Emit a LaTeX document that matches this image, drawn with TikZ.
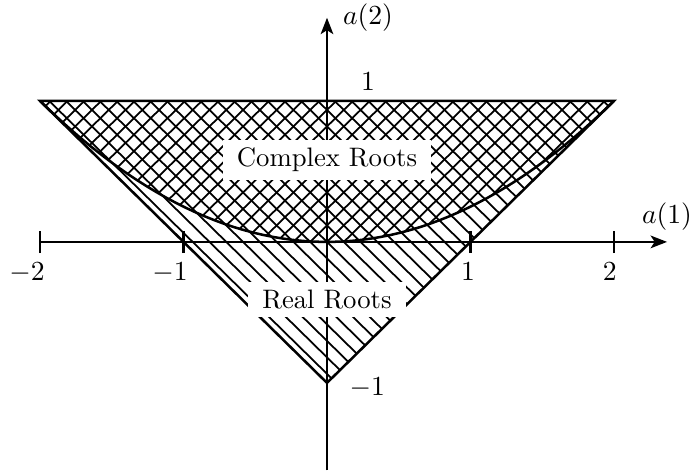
\documentclass[tikz,border=0pt]{standalone}
\usetikzlibrary{arrows.meta}
\begin{document}
\begin{tikzpicture}[x=2cm,y=1.965cm,
    every node/.style={font=\fontsize{10.6}{12}\selectfont},
    hatch/.style={line width=0.7pt},
    edge/.style={line width=1pt},
    axis/.style={line width=0.9pt,-{Stealth[length=6.5pt,width=5pt,inset=1.6pt]}},
    hole/.style={fill=white,inner xsep=5.5pt,inner ysep=3.2pt}]
  \useasboundingbox (-2.279,-1.645) rectangle (2.537,1.716);
  % complex roots: cross hatch above the parabola
  \begin{scope}
    \clip (-2,1) -- plot[domain=-2:2,samples=60] (\x,{\x*\x/4}) -- cycle;
    \foreach \i in {-30,...,30}
      \draw[hatch] ({\i*0.117-2},2) -- ({\i*0.117+2},-2)
                   ({\i*0.117-2},-2) -- ({\i*0.117+2},2);
  \end{scope}
  % real roots: single hatch below it
  \begin{scope}
    \clip (-2,1) -- (0,-1) -- (2,1) -- plot[domain=2:-2,samples=60] (\x,{\x*\x/4}) -- cycle;
    \foreach \i in {-30,...,30}
      \draw[hatch] ({\i*0.117-2},2) -- ({\i*0.117+2},-2);
  \end{scope}
  \draw[edge] (-2,1) -- (2,1) -- (0,-1) -- cycle;
  \draw[edge] plot[domain=-2:2,samples=60] (\x,{\x*\x/4});
  % axes
  \draw[axis] (-2,0) -- (2.37,0);
  \draw[axis] (0,-1.62) -- (0,1.59);
  \foreach \t in {-2,-1,1,2}
    \draw[edge] (\t,-0.08) -- (\t,0.08);
  \node (xlabel) at (2.37,0.18) {$a(1)$};
  \node (ylabel) at (0.286,1.59) {$a(2)$};
  \node (xm2) at (-2.09,-0.22) {$-2$};
  \node (xm1) at (-1.094,-0.22) {$-1$};
  \node (xp1) at (0.983,-0.21) {$1$};
  \node (xp2) at (1.97,-0.21) {$2$};
  \node (yp1) at (0.286,1.135) {$1$};
  \node (ym1) at (0.28,-1.035) {$-1$};
  \node[hole] (complex) at (0,0.58) {Complex Roots};
  \node[hole] (real) at (0,-0.411) {Real Roots};
\end{tikzpicture}
\end{document}
